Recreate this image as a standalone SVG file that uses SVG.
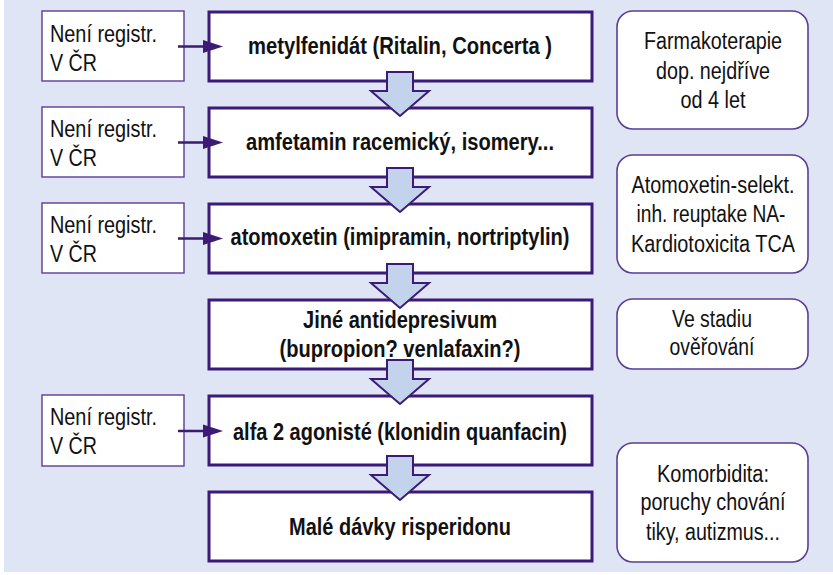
<svg xmlns="http://www.w3.org/2000/svg" width="833" height="575" viewBox="0 0 833 575">
<defs>
<style>
.bg{fill:#dfe5f4}
.main{fill:#ffffff;stroke:#3b1a78;stroke-width:3}
.side{fill:#ffffff;stroke:#5a3e94;stroke-width:1.4}
.note{fill:#ffffff;stroke:#5a3e94;stroke-width:1.6}
.barrow{fill:#c4d3ec;stroke:#3b1a78;stroke-width:2;stroke-linejoin:miter}
.conn{stroke:#3b1a78;stroke-width:2.5;fill:none}
.head{fill:#3b1a78}
text{font-family:"Liberation Sans",Arial,sans-serif;font-size:23.5px;fill:#111111}
.b{font-weight:bold;text-anchor:middle;font-size:23px}
.c{text-anchor:middle}
</style>
</defs>
<rect class="bg" x="4" y="0" width="829" height="572"/>

<g id="main1"><rect class="main" x="209" y="12" width="383" height="69"/><text class="b" x="400" y="54" textLength="304" lengthAdjust="spacingAndGlyphs">metylfenidát (Ritalin, Concerta )</text></g>
<g id="main2"><rect class="main" x="209" y="108" width="383" height="69"/><text class="b" x="400" y="150" textLength="308" lengthAdjust="spacingAndGlyphs">amfetamin racemický, isomery...</text></g>
<g id="main3"><rect class="main" x="209" y="204" width="383" height="69"/><text class="b" x="400" y="245" textLength="339" lengthAdjust="spacingAndGlyphs">atomoxetin (imipramin, nortriptylin)</text></g>
<g id="main4"><rect class="main" x="209" y="300" width="383" height="69"/><text class="b" x="400" y="328" textLength="194" lengthAdjust="spacingAndGlyphs">Jiné antidepresivum</text><text class="b" x="400" y="357" textLength="241" lengthAdjust="spacingAndGlyphs">(bupropion? venlafaxin?)</text></g>
<g id="main5"><rect class="main" x="209" y="396" width="383" height="69"/><text class="b" x="400" y="440" textLength="334" lengthAdjust="spacingAndGlyphs">alfa 2 agonisté (klonidin quanfacin)</text></g>
<g id="main6"><rect class="main" x="209" y="492" width="383" height="69"/><text class="b" x="400" y="535" textLength="222" lengthAdjust="spacingAndGlyphs">Malé dávky risperidonu</text></g>

<g id="side1"><rect class="side" x="42" y="11" width="142" height="70"/><text x="50" y="42" textLength="107" lengthAdjust="spacingAndGlyphs">Není registr.</text><text x="50" y="71" textLength="47" lengthAdjust="spacingAndGlyphs">V ČR</text></g>
<g id="side2"><rect class="side" x="42" y="107" width="142" height="70"/><text x="50" y="137" textLength="107" lengthAdjust="spacingAndGlyphs">Není registr.</text><text x="50" y="166" textLength="47" lengthAdjust="spacingAndGlyphs">V ČR</text></g>
<g id="side3"><rect class="side" x="42" y="203" width="142" height="70"/><text x="50" y="233" textLength="107" lengthAdjust="spacingAndGlyphs">Není registr.</text><text x="50" y="262" textLength="47" lengthAdjust="spacingAndGlyphs">V ČR</text></g>
<g id="side5"><rect class="side" x="42" y="395" width="142" height="71"/><text x="50" y="425" textLength="107" lengthAdjust="spacingAndGlyphs">Není registr.</text><text x="50" y="454" textLength="47" lengthAdjust="spacingAndGlyphs">V ČR</text></g>

<g id="noteA"><rect class="note" x="617" y="11" width="191" height="118" rx="16"/><text class="c" x="713" y="49" textLength="138" lengthAdjust="spacingAndGlyphs">Farmakoterapie</text><text class="c" x="713" y="79" textLength="114" lengthAdjust="spacingAndGlyphs">dop. nejdříve</text><text class="c" x="713" y="108" textLength="65" lengthAdjust="spacingAndGlyphs">od 4 let</text></g>
<g id="noteB"><rect class="note" x="617" y="155" width="191" height="118" rx="16"/><text class="c" x="713" y="193" textLength="163" lengthAdjust="spacingAndGlyphs">Atomoxetin-selekt.</text><text class="c" x="711" y="222" textLength="149" lengthAdjust="spacingAndGlyphs">inh. reuptake NA-</text><text class="c" x="713" y="252" textLength="164" lengthAdjust="spacingAndGlyphs">Kardiotoxicita TCA</text></g>
<g id="noteC"><rect class="note" x="617" y="299" width="191" height="70" rx="16"/><text class="c" x="712" y="327" textLength="80" lengthAdjust="spacingAndGlyphs">Ve stadiu</text><text class="c" x="712" y="355" textLength="85" lengthAdjust="spacingAndGlyphs">ověřování</text></g>
<g id="noteD"><rect class="note" x="617" y="443" width="191" height="119" rx="16"/><text class="c" x="713" y="482" textLength="112" lengthAdjust="spacingAndGlyphs">Komorbidita:</text><text class="c" x="713" y="510" textLength="145" lengthAdjust="spacingAndGlyphs">poruchy chování</text><text class="c" x="713" y="540" textLength="134" lengthAdjust="spacingAndGlyphs">tiky, autizmus...</text></g>

<g id="connectors">
<line class="conn" x1="178" y1="46.5" x2="206" y2="46.5"/><polygon class="head" points="203,40 223,46.5 203,53"/>
<line class="conn" x1="178" y1="142.5" x2="206" y2="142.5"/><polygon class="head" points="203,136 223,142.5 203,149"/>
<line class="conn" x1="178" y1="238.5" x2="206" y2="238.5"/><polygon class="head" points="203,232 223,238.5 203,245"/>
<line class="conn" x1="178" y1="431" x2="206" y2="431"/><polygon class="head" points="203,424.5 223,431 203,437.5"/>
<polygon class="barrow" points="387,72 413,72 413,91 429,91 400,116 371,91 387,91"/>
<polygon class="barrow" points="387,168 413,168 413,187 429,187 400,212 371,187 387,187"/>
<polygon class="barrow" points="387,264 413,264 413,283 429,283 400,308 371,283 387,283"/>
<polygon class="barrow" points="387,360 413,360 413,379 429,379 400,404 371,379 387,379"/>
<polygon class="barrow" points="387,456 413,456 413,475 429,475 400,500 371,475 387,475"/>
</g>
</svg>
